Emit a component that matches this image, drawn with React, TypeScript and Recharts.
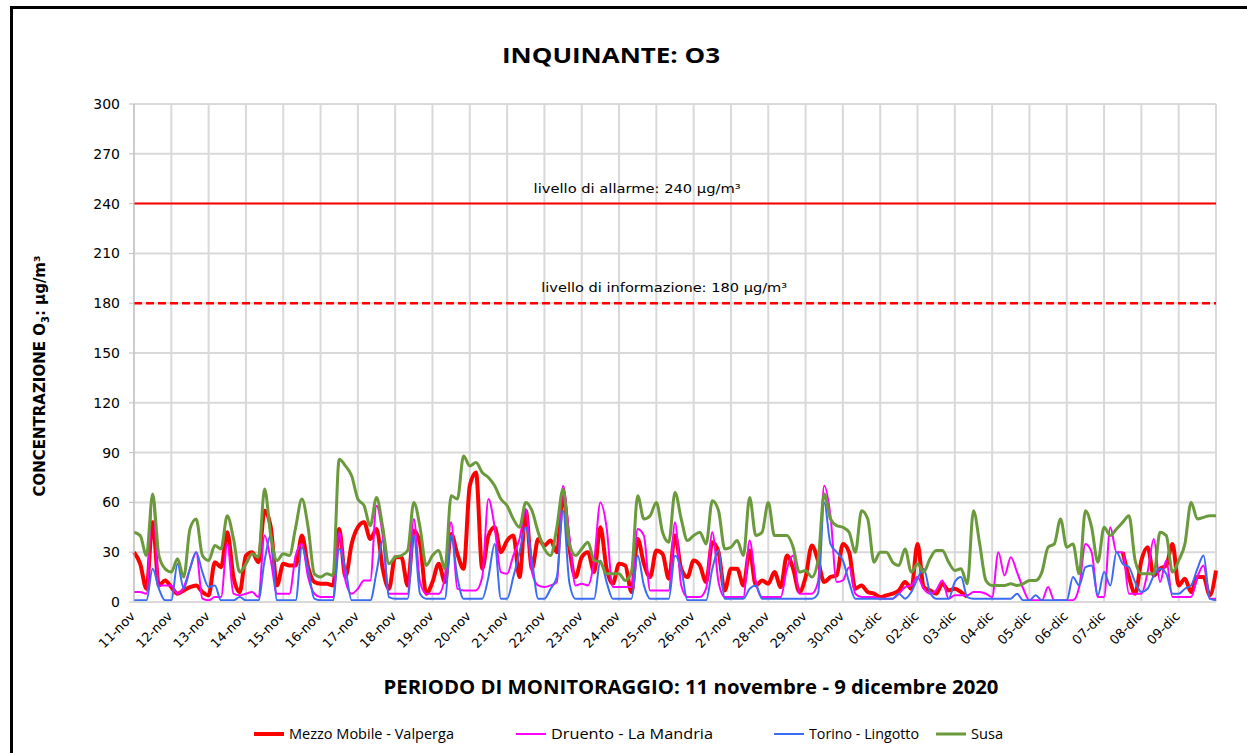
import React from 'react'
import { CartesianGrid, Line, LineChart, ReferenceLine, XAxis, YAxis } from 'recharts'

// one reading every 4 hours, 11 nov 00:00 -> 10 dic 00:00
const SAMPLES_PER_DAY = 6

const dayLabels = [
  '11-nov', '12-nov', '13-nov', '14-nov', '15-nov', '16-nov', '17-nov', '18-nov', '19-nov', '20-nov',
  '21-nov', '22-nov', '23-nov', '24-nov', '25-nov', '26-nov', '27-nov', '28-nov', '29-nov', '30-nov',
  '01-dic', '02-dic', '03-dic', '04-dic', '05-dic', '06-dic', '07-dic', '08-dic', '09-dic',
]

const yTicks = [0, 30, 60, 90, 120, 150, 180, 210, 240, 270, 300]

const ALARM = 240
const INFO = 180

// Mezzo Mobile - Valperga (null = missing data)
const valperga: (number | null)[] = [
  30, 23, 8, 48, 10, 13,
  9, 5, 7, 9, 10, 6,
  4, 24, 21, 42, 15, 6,
  28, 30, 24, 55, 45, 10,
  23, 22, 22, 40, 21, 12,
  11, 11, 10, 44, 15, 35,
  45, 48, 38, 44, 20, 8,
  27, 27, 10, 43, 35, 5,
  12, 23, 12, 41, 29, 20,
  70, 78, 20, 40, 45, 30,
  37, 40, 15, 55, 20, 38,
  34, 37, 30, 65, 33, 15,
  27, 30, 18, 45, 20, 11,
  23, 22, 6, 38, 23, 15,
  31, 29, 14, 40, 20, 15,
  25, 22, 12, 36, 30, 7,
  20, 20, 10, 31, 10, 13,
  11, 18, 9, 28, 20, 6,
  15, 34, 25, 12, 15, 16,
  35, 30, 8, 10, 6, 5,
  3, 4, 5, 7, 12, 8,
  35, 9, 7, 5, 11, 7,
  8, 6, 3, null, null, null,
  null, null, null, null, null, null,
  null, null, null, null, null, null,
  null, null, null, null, null, null,
  null, null, null, 30, 15, 5,
  25, 33, 16, 20, 22, 35,
  10, 14, 6, 15, 15, 4,
  19,
]

// Druento - La Mandria
const druento = [
  6, 6, 5, 65, 10, 10,
  10, 5, 9, 20, 30, 2,
  1, 3, 3, 35, 5, 4,
  5, 6, 3, 40, 25, 5,
  5, 5, 28, 35, 15, 5,
  3, 3, 3, 42, 13, 5,
  8, 13, 13, 58, 40, 5,
  5, 5, 5, 50, 12, 5,
  5, 5, 15, 48, 8, 7,
  7, 7, 15, 62, 45, 18,
  17, 28, 38, 56, 18, 10,
  9, 10, 12, 70, 40, 10,
  11, 10, 25, 60, 45, 9,
  9, 9, 9, 44, 40, 7,
  7, 7, 7, 48, 10, 3,
  3, 3, 8, 42, 12, 3,
  3, 3, 3, 37, 12, 3,
  3, 3, 3, 20, 28, 5,
  5, 5, 12, 70, 52, 12,
  13, 21, 5, 3, 3, 3,
  2, 2, 2, 5, 9, 10,
  15, 8, 5, 7, 13, 2,
  4, 4, 4, 6, 6, 5,
  3, 30, 16, 27, 18, 8,
  1, 1, 1, 9, 1, 1,
  1, 1, 9, 35, 30, 3,
  3, 45, 30, 30, 5, 5,
  5, 18, 38, 12, 25, 3,
  3, 3, 3, 15, 22, 2,
  2,
]

// Torino - Lingotto
const torino = [
  1, 1, 1, 20, 8, 1,
  1, 23, 8, 20, 30, 18,
  9, 10, 1, 1, 1, 3,
  1, 1, 1, 25, 40, 1,
  1, 1, 1, 33, 20, 2,
  1, 1, 1, 32, 20, 1,
  1, 1, 1, 18, 37, 3,
  2, 2, 2, 40, 5, 2,
  2, 2, 2, 40, 15, 2,
  2, 2, 2, 15, 35, 2,
  2, 15, 30, 45, 25, 2,
  2, 8, 15, 55, 12, 2,
  2, 2, 2, 25, 12, 2,
  2, 2, 2, 28, 10, 2,
  2, 2, 2, 28, 20, 1,
  1, 1, 1, 20, 31, 2,
  2, 2, 2, 8, 10, 2,
  2, 2, 2, 2, 2, 2,
  2, 2, 5, 60, 35, 30,
  25, 12, 2, 2, 2, 2,
  2, 2, 2, 5, 2, 6,
  14, 20, 6, 2, 2, 2,
  12, 15, 3, 2, 2, 2,
  2, 2, 2, 2, 5, 1,
  1, 4, 1, 1, 1, 1,
  1, 15, 10, 21, 22, 4,
  18, 10, 30, 23, 21, 12,
  6, 8, 16, 20, 17, 5,
  5, 8, 10, 20, 28, 2,
  1,
]

// Susa
const susa = [
  42, 40, 28, 65, 28, 20,
  18, 26, 15, 44, 50, 28,
  25, 34, 32, 52, 38, 18,
  23, 29, 27, 68, 40, 25,
  29, 28, 45, 62, 45, 17,
  15, 17, 16, 86, 82, 76,
  62, 58, 46, 63, 45, 23,
  27, 28, 31, 60, 45, 22,
  28, 31, 20, 64, 62, 88,
  82, 84, 78, 75, 70, 62,
  58, 50, 45, 60, 55, 42,
  32, 28, 45, 68, 35, 28,
  32, 36, 25, 24, 17, 17,
  17, 13, 18, 64, 50, 52,
  60, 42, 36, 66, 50, 37,
  40, 42, 35, 61, 55, 32,
  33, 37, 28, 63, 40, 42,
  60, 40, 40, 40, 33, 18,
  19, 15, 25, 65, 50, 46,
  45, 42, 30, 55, 50, 24,
  30, 30, 24, 22, 32, 18,
  23, 18, 26, 31, 31, 24,
  19, 20, 11, 55, 35, 13,
  10, 10, 10, 11, 10, 11,
  13, 13, 18, 33, 35, 50,
  33, 35, 17, 55, 45, 24,
  45, 40, 44, 48, 52, 25,
  17, 17, 17, 42, 40, 18,
  25, 35, 60, 50, 51, 52,
  52,
]

const series = [
  { key: 'valperga', name: 'Mezzo Mobile - Valperga', color: '#ff0000', width: 4 },
  { key: 'druento', name: 'Druento - La Mandria', color: '#ff00ff', width: 2 },
  { key: 'torino', name: 'Torino - Lingotto', color: '#3a6cf4', width: 2 },
  { key: 'susa', name: 'Susa', color: '#6a9a3c', width: 3 },
]

const data = valperga.map((v, i) => ({
  t: i / SAMPLES_PER_DAY,
  valperga: v,
  druento: druento[i],
  torino: torino[i],
  susa: susa[i],
}))

const xTicks = [...dayLabels.map((_, i) => i), dayLabels.length]

const FONT = "'DejaVu Sans', sans-serif"
const TITLE_FONT = "'Open Sans', sans-serif"

function DayTick({ x, y, payload }: any) {
  const label = dayLabels[payload.value]
  if (!label) return null
  const ax = x + 2
  const ay = y + 13
  return (
    <text x={ax} y={ay} transform={`rotate(-45, ${ax}, ${ay})`} textAnchor="end" fontSize={13} fontFamily={FONT} fill="#000">
      {label}
    </text>
  )
}

function refLabel(text: string, pos: number, len: number) {
  return (props: any) => {
    const vb = props.viewBox || {}
    return (
      <text
        x={vb.x + vb.width * pos}
        y={vb.y - 11}
        textAnchor="middle"
        fontSize={13}
        fontFamily={FONT}
        fill="#000"
        textLength={len}
        lengthAdjust="spacingAndGlyphs"
      >
        {text}
      </text>
    )
  }
}

const legendPos = [
  { x: 254, textW: 165 },
  { x: 516, textW: 162 },
  { x: 774, textW: 110 },
  { x: 936, textW: 32 },
]

export default function App() {
  return (
    <div style={{ position: 'absolute', left: 0, top: 0, width: 1247, height: 753, overflow: 'hidden', background: '#fff' }}>
      <LineChart width={1247} height={753} data={data} margin={{ top: 104, right: 31, bottom: 0, left: 74 }}>
        <CartesianGrid stroke="#d9d9d9" strokeWidth={2} />
        <XAxis
          type="number"
          dataKey="t"
          domain={[0, dayLabels.length]}
          ticks={xTicks}
          interval={0}
          height={151}
          tick={<DayTick />}
          tickLine={false}
          tickSize={0}
          axisLine={{ stroke: '#d9d9d9', strokeWidth: 2 }}
        />
        <YAxis
          domain={[0, 300]}
          ticks={yTicks}
          interval={0}
          width={60}
          tick={{ fontSize: 14, fontFamily: FONT, fill: '#000' }}
          tickLine={{ stroke: '#bfbfbf' }}
          tickSize={5}
          tickMargin={9}
          axisLine={{ stroke: '#bfbfbf' }}
        />
        <ReferenceLine
          y={ALARM}
          stroke="#ff0000"
          strokeWidth={2}
          label={refLabel('livello di allarme: 240 µg/m³', 0.465, 207)}
        />
        <ReferenceLine
          y={INFO}
          stroke="#ff0000"
          strokeWidth={2.5}
          strokeDasharray="8 4"
          label={refLabel('livello di informazione: 180 µg/m³', 0.49, 246)}
        />
        {series.map(s => (
          <Line
            key={s.key}
            type="monotone"
            dataKey={s.key}
            name={s.name}
            stroke={s.color}
            strokeWidth={s.width}
            strokeLinejoin="round"
            dot={false}
            activeDot={false}
            isAnimationActive={false}
          />
        ))}
      </LineChart>

      <svg width={1247} height={753} style={{ position: 'absolute', left: 0, top: 0, pointerEvents: 'none' }}>
        <rect x={11.5} y={7.5} width={1300} height={800} fill="none" stroke="#000" strokeWidth={3} />
        <text x={611} y={63} textAnchor="middle" fontFamily={TITLE_FONT} fontWeight={700} fontSize={22} textLength={218} lengthAdjust="spacingAndGlyphs">
          INQUINANTE: O3
        </text>
        <text
          x={45}
          y={376}
          transform="rotate(-90, 45, 376)"
          textAnchor="middle"
          fontFamily={FONT}
          fontWeight={700}
          fontSize={15}
        >
          CONCENTRAZIONE O<tspan fontSize={10} dy={4}>3</tspan>
          <tspan dy={-4}>: µg/m³</tspan>
        </text>
        <text x={691} y={694} textAnchor="middle" fontFamily={TITLE_FONT} fontWeight={700} fontSize={20} textLength={615} lengthAdjust="spacingAndGlyphs">
          PERIODO DI MONITORAGGIO: 11 novembre - 9 dicembre 2020
        </text>
        {series.map((s, i) => (
          <g key={s.key}>
            <line x1={legendPos[i].x} x2={legendPos[i].x + 30} y1={734} y2={734} stroke={s.color} strokeWidth={s.width} />
            <text x={legendPos[i].x + 35} y={739} fontFamily={TITLE_FONT} fontSize={14} textLength={legendPos[i].textW} lengthAdjust="spacingAndGlyphs">
              {s.name}
            </text>
          </g>
        ))}
      </svg>
    </div>
  )
}
